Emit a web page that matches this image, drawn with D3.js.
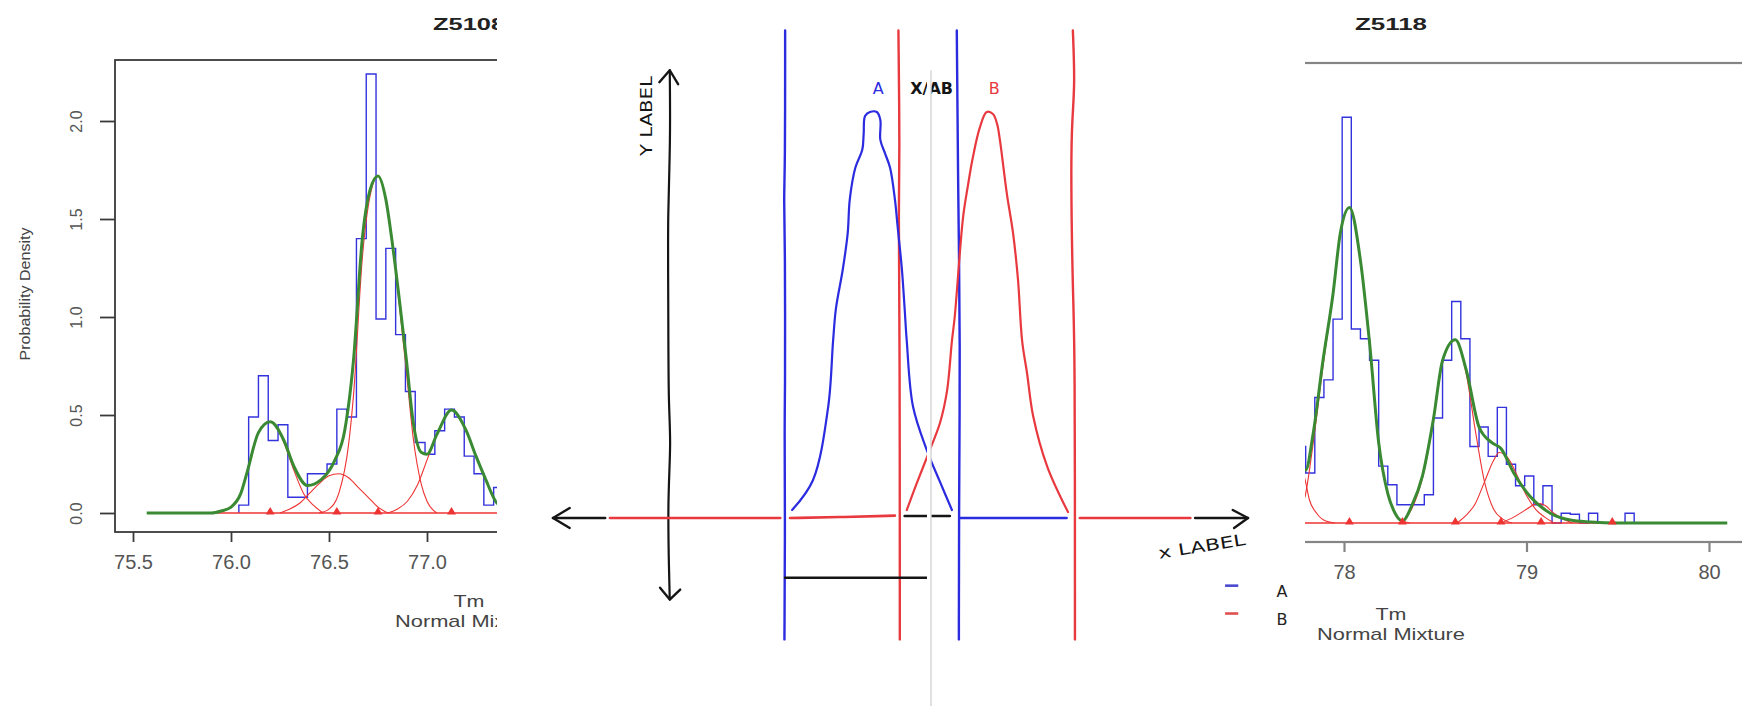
<!DOCTYPE html>
<html><head><meta charset="utf-8">
<script src="https://cdn.jsdelivr.net/npm/d3@7"></script>
<style>body{margin:0;background:#fff}svg{display:block}</style>
</head><body><svg id="c" width="1742" height="706"></svg>
<script>
// ---------------- DATA ----------------
// Left panel: Z5108
const leftTitle = "Z5108";
const leftBinStart = 76.04;
const leftBinWidth = 0.05;
const leftHist = [0.04,0.49,0.70,0.37,0.45,0.08,0.08,0.20,0.20,0.25,0.53,0.49,1.40,2.24,0.99,1.35,0.91,0.62,0.36,0.30,0.42,0.53,0.49,0.29,0.20,0.04,0.13];
const leftFit = [[75.57,0],[75.9,0],[75.95,0.01],[76.0,0.03],[76.05,0.1],[76.08,0.2],[76.14,0.41],[76.2,0.465],[76.27,0.37],[76.32,0.24],[76.39,0.14],[76.46,0.17],[76.53,0.27],[76.58,0.42],[76.625,0.78],[76.67,1.4],[76.71,1.65],[76.75,1.72],[76.79,1.6],[76.82,1.4],[76.86,1.08],[76.895,0.78],[76.93,0.46],[76.97,0.31],[77.0,0.3],[77.05,0.4],[77.125,0.525],[77.2,0.42],[77.25,0.29],[77.3,0.17],[77.35,0.06],[77.4,0.02]];
const leftComp1 = [[75.9,0],[75.95,0.01],[76.0,0.03],[76.05,0.1],[76.08,0.2],[76.14,0.41],[76.2,0.465],[76.27,0.36],[76.32,0.22],[76.37,0.1],[76.42,0.04],[76.47,0]];
const leftComp2 = [[76.25,0],[76.3,0.02],[76.35,0.05],[76.4,0.1],[76.45,0.15],[76.5,0.19],[76.55,0.2],[76.6,0.18],[76.65,0.13],[76.7,0.08],[76.75,0.03],[76.8,0]];
const leftComp3 = [[76.45,0],[76.5,0.02],[76.55,0.1],[76.6,0.35],[76.625,0.6],[76.67,1.3],[76.71,1.62],[76.75,1.72],[76.79,1.6],[76.82,1.4],[76.86,1.05],[76.895,0.72],[76.93,0.38],[76.97,0.15],[77.0,0.06],[77.05,0]];
const leftComp4 = [[76.8,0],[76.85,0.02],[76.9,0.06],[76.95,0.14],[77.0,0.27],[77.05,0.4],[77.125,0.525],[77.2,0.42],[77.25,0.29],[77.3,0.17],[77.35,0.06],[77.4,0.02]];
const leftMeans = [76.2, 76.54, 76.75, 77.125];
const leftRedRange = [75.9, 77.6];
const leftXTicks = [75.5, 76.0, 76.5, 77.0, 77.5];
const leftYTicks = [0.0, 0.5, 1.0, 1.5, 2.0];

// Right panel: Z5118
const rightTitle = "Z5118";
const rightBinStart = 77.74;
const rightBinWidth = 0.05;
const rightHist = [0.39,0.255,0.64,0.73,1.04,2.07,0.99,0.94,0.83,0.29,0.195,0.093,0.093,0.093,0.144,0.536,0.83,1.13,0.94,0.39,0.49,0.34,0.59,0.30,0.19,0.24,0.093,0.19,0,0.05,0.045,0,0.05,0,0,0,0.05];
const rightFit = [[77.74,0.36],[77.79,0.27],[77.83,0.45],[77.885,0.83],[77.94,1.17],[77.98,1.48],[78.03,1.61],[78.09,1.34],[78.14,0.92],[78.19,0.41],[78.24,0.15],[78.28,0.05],[78.32,0.01],[78.37,0.085],[78.43,0.24],[78.49,0.53],[78.54,0.83],[78.61,0.935],[78.67,0.78],[78.74,0.49],[78.81,0.41],[78.86,0.38],[78.93,0.255],[79.02,0.135],[79.13,0.05],[79.24,0.015],[79.35,0.005],[79.5,0],[80.1,0]];
const rightComp0 = [[77.7,0.5],[77.75,0.33],[77.787,0.22],[77.81,0.12],[77.85,0.05],[77.9,0.01],[77.95,0]];
const rightComp1 = [[77.74,0.02],[77.79,0.15],[77.83,0.4],[77.885,0.8],[77.94,1.17],[77.98,1.48],[78.03,1.61],[78.09,1.34],[78.14,0.92],[78.19,0.41],[78.24,0.15],[78.28,0.05],[78.32,0.01],[78.36,0]];
const rightComp3 = [[78.3,0],[78.37,0.07],[78.43,0.23],[78.49,0.52],[78.54,0.82],[78.61,0.935],[78.67,0.76],[78.72,0.47],[78.77,0.21],[78.82,0.07],[78.87,0.02],[78.92,0]];
const rightComp4 = [[78.62,0],[78.67,0.04],[78.72,0.1],[78.77,0.21],[78.82,0.32],[78.85,0.36],[78.9,0.33],[78.95,0.24],[79.0,0.14],[79.05,0.07],[79.1,0.03],[79.15,0]];
const rightComp5 = [[78.86,0],[78.93,0.03],[79.0,0.07],[79.06,0.1],[79.1,0.09],[79.15,0.05],[79.2,0.02],[79.25,0]];
const rightMeans = [78.03, 78.32, 78.61, 78.86, 79.08, 79.47];
const rightRedRange = [77.7, 79.6];
const rightXTicks = [78, 79, 80];

const axisTitle = "Tm";
const subTitle = "Normal Mixture";
const yTitle = "Probability Density";

// Middle sketch (sketch units)
const curveA = [[3.44,0.04],[3.74,0.19],[3.96,0.56],[4.03,0.89],[4.07,1.05],[4.17,1.25],[4.24,1.43],[4.27,1.60],[4.35,1.76],[4.45,1.85],[4.47,1.93],[4.49,2.02],[4.56,2.04],[4.66,2.04],[4.71,2.00],[4.71,1.90],[4.78,1.83],[4.85,1.76],[4.92,1.60],[4.96,1.46],[5.02,1.25],[5.06,1.05],[5.09,0.89],[5.18,0.56],[5.38,0.34],[5.57,0.18],[5.74,0.04]];
const curveB = [[5.09,0.04],[5.24,0.18],[5.42,0.34],[5.57,0.48],[5.67,0.64],[5.74,0.89],[5.78,1.01],[5.90,1.51],[5.97,1.67],[6.04,1.81],[6.14,1.96],[6.24,2.04],[6.33,2.03],[6.39,1.98],[6.43,1.90],[6.53,1.63],[6.62,1.43],[6.69,1.20],[6.75,0.89],[6.82,0.73],[6.91,0.51],[7.11,0.26],[7.41,0.03]];
const vLineBlue1 = [[3.34,2.45],[3.34,1.76],[3.32,1.60],[3.34,1.40],[3.34,0.56],[3.33,0.51],[3.34,0.0],[3.33,-0.61]];
const vLineRed1 = [[4.97,2.45],[4.99,1.81],[4.97,1.60],[4.99,0.89],[4.99,-0.61]];
const vLineBlue2 = [[5.81,2.45],[5.83,1.60],[5.86,0.89],[5.84,0.0],[5.84,-0.61]];
const vLineRed2 = [[7.48,2.45],[7.51,2.18],[7.47,2.01],[7.45,1.76],[7.48,1.10],[7.51,0.89],[7.51,-0.61]];
const yAxisSketch = [[1.68,2.25],[1.69,1.88],[1.65,1.53],[1.66,1.10],[1.66,0.56],[1.70,0.39],[1.65,0.09],[1.67,-0.28],[1.68,-0.41]];
const xAxisSegments = [
  {k:"black", p:[[0,0],[0.75,0]]},
  {k:"B", p:[[0.82,0],[3.27,0]]},
  {k:"B", p:[[3.41,0],[4.2,0.005],[4.92,0.012]]},
  {k:"black", p:[[5.06,0.01],[5.71,0.01]]},
  {k:"A", p:[[5.86,0],[7.39,0]]},
  {k:"B", p:[[7.58,0],[9.17,0]]},
  {k:"black", p:[[9.24,0],[10,0]]}
];
const arrowHeads = [
  [[0.24,0.05],[0,0],[0.24,-0.05]],
  [[9.78,0.04],[10,0],[9.8,-0.05]],
  [[1.53,2.19],[1.68,2.25],[1.80,2.18]],
  [[1.54,-0.35],[1.68,-0.41],[1.83,-0.36]]
];
const spanBar = [[3.34,-0.30],[5.42,-0.30]];
const seam = [[5.41,2.25],[5.41,-0.95]];
const sketchLabels = [
  {t:"A", u:4.68, v:2.13, k:"A", a:"middle"},
  {t:"X/AB", u:5.14, v:2.13, k:"black", a:"start"},
  {t:"B", u:6.35, v:2.13, k:"B", a:"middle"}
];
const legendKeys = ["A","B"];
const legendV = [-0.34, -0.48];

// ---------------- DRAW ----------------
const W = 1742, H = 706;
const svg = d3.select("#c");
svg.append("rect").attr("width", W).attr("height", H).attr("fill", "#fff");
const defs = svg.append("defs");
defs.append("clipPath").attr("id","clipL").append("rect").attr("x",0).attr("y",0).attr("width",497).attr("height",H);
defs.append("clipPath").attr("id","clipR").append("rect").attr("x",1305).attr("y",0).attr("width",W-1305).attr("height",H);

const RFONT = "'Liberation Sans', Arial, Helvetica, sans-serif";
const histBlue = "#3333dd", fitGreen = "#3a8a34", compRed = "#ee3333";

function drawRPanel(o) {
  const g = svg.append("g").attr("clip-path", `url(#${o.clip})`);
  const x = o.x, y = o.y;
  // title
  g.append("text").attr("x", o.titleX).attr("y", 30).attr("font-family", RFONT)
    .attr("font-weight", "bold").attr("font-size", 17).attr("fill", "#222")
    .attr("textLength", 72).attr("lengthAdjust", "spacingAndGlyphs").text(o.title);
  // frame
  g.append("rect").attr("x", o.frame[0]).attr("y", o.frame[1]).attr("width", o.frame[2]).attr("height", o.frame[3])
    .attr("fill", "none").attr("stroke", o.frameColor).attr("stroke-width", o.frameWidth);
  // x axis
  const xa = g.append("g").attr("transform", `translate(0,${o.frame[1]+o.frame[3]})`)
    .call(d3.axisBottom(x).tickValues(o.xTicks).tickSize(10).tickFormat(o.xFmt));
  xa.select(".domain").remove();
  xa.selectAll(".tick line").attr("stroke", o.frameColor).attr("stroke-width", o.frameWidth);
  xa.selectAll(".tick text").attr("y", 37).attr("dy", 0).attr("font-family", RFONT)
    .attr("font-size", 20).attr("fill", "#555");
  // y axis
  if (o.yTicks) {
    const ya = g.append("g").attr("transform", `translate(${o.frame[0]},0)`)
      .call(d3.axisLeft(y).tickValues(o.yTicks).tickSize(15).tickFormat(d3.format(".1f")));
    ya.select(".domain").remove();
    ya.selectAll(".tick line").attr("stroke", o.frameColor).attr("stroke-width", o.frameWidth);
    ya.selectAll(".tick text").attr("transform", "rotate(-90)").attr("x", 0).attr("y", -33).attr("dy", 0)
      .attr("text-anchor", "middle").attr("font-family", RFONT).attr("font-size", 16).attr("fill", "#555");
  }
  // histogram outline (step)
  const n = o.hist.length;
  const stepPts = [[o.binStart, 0]].concat(o.hist.map((h, i) => [o.binStart + i * o.binWidth, h]), [[o.binStart + n * o.binWidth, 0]]);
  const stepLine = d3.line().x(d => x(d[0])).y(d => y(d[1])).curve(d3.curveStepAfter);
  g.append("path").attr("d", stepLine(stepPts)).attr("fill", "none").attr("stroke", histBlue).attr("stroke-width", 1.4);
  const line = d3.line().x(d => x(d[0])).y(d => y(d[1])).curve(d3.curveMonotoneX);
  // components
  g.append("g").selectAll("path").data(o.comps).join("path").attr("d", line)
    .attr("fill", "none").attr("stroke", compRed).attr("stroke-width", 1.1);
  // zero line
  g.append("line").attr("x1", x(o.redRange[0])).attr("x2", x(o.redRange[1]))
    .attr("y1", y(0)).attr("y2", y(0)).attr("stroke", compRed).attr("stroke-width", 1.4);
  // fit
  g.append("path").attr("d", line(o.fit)).attr("fill", "none").attr("stroke", fitGreen)
    .attr("stroke-width", 3).attr("stroke-linejoin", "round");
  // means
  g.append("g").selectAll("path").data(o.means).join("path")
    .attr("d", d3.symbol(d3.symbolTriangle).size(34))
    .attr("transform", d => `translate(${x(d)},${y(0) - 1})`).attr("fill", compRed);
  // axis titles
  g.append("text").attr("x", o.subX).attr("y", o.subY).attr("text-anchor", "middle").attr("font-family", RFONT)
    .attr("font-size", 17).attr("fill", "#444").attr("textLength", 31).attr("lengthAdjust", "spacingAndGlyphs").text(axisTitle);
  g.append("text").attr("x", o.subX).attr("y", o.subY + 20).attr("text-anchor", "middle").attr("font-family", RFONT)
    .attr("font-size", 17).attr("fill", "#444").attr("textLength", 148).attr("lengthAdjust", "spacingAndGlyphs").text(subTitle);
  if (o.yTitle) {
    g.append("text").attr("transform", `translate(30,294) rotate(-90)`).attr("text-anchor", "middle")
      .attr("font-family", RFONT).attr("font-size", 15).attr("fill", "#444")
      .attr("textLength", 133).attr("lengthAdjust", "spacingAndGlyphs").text(o.yTitle);
  }
}

const xL = d3.scaleLinear().domain([75.5, 77.0]).range([133, 427]);
const yL = d3.scaleLinear().domain([0, 2]).range([513, 121]);
drawRPanel({
  clip: "clipL", x: xL, y: yL, title: leftTitle, titleX: 433,
  frame: [115, 60, 520, 472], frameColor: "#3a3a3a", frameWidth: 1.8,
  xTicks: leftXTicks, xFmt: d3.format(".1f"), yTicks: leftYTicks,
  hist: leftHist, binStart: leftBinStart, binWidth: leftBinWidth,
  comps: [leftComp1, leftComp2, leftComp3, leftComp4], fit: leftFit,
  means: leftMeans, redRange: leftRedRange, subX: 469, subY: 607, yTitle: yTitle
});

const xR = d3.scaleLinear().domain([78, 80]).range([1344, 1709]);
const yR = d3.scaleLinear().domain([0, 2]).range([523, 131]);
drawRPanel({
  clip: "clipR", x: xR, y: yR, title: rightTitle, titleX: 1355,
  frame: [1200, 63, 700, 479], frameColor: "#858585", frameWidth: 2.2,
  xTicks: rightXTicks, xFmt: d3.format("d"), yTicks: null,
  hist: rightHist, binStart: rightBinStart, binWidth: rightBinWidth,
  comps: [rightComp0, rightComp1, rightComp3, rightComp4, rightComp5], fit: rightFit,
  means: rightMeans, redRange: rightRedRange, subX: 1391, subY: 620, yTitle: null
});

// ---- middle sketch ----
const xS = d3.scaleLinear().domain([0, 10]).range([553, 1248]);
const yS = d3.scaleLinear().domain([0, 2]).range([518, 120]);
const col = {A: "#2b2be0", B: "#e8393f", black: "#151515"};
const SFONT = "'DejaVu Sans', 'Open Sans', sans-serif";
const gs = svg.append("g").attr("fill", "none").attr("stroke-linecap", "round").attr("stroke-linejoin", "round");
const sk = d3.line().x(d => xS(d[0])).y(d => yS(d[1])).curve(d3.curveCatmullRom.alpha(0.5));
const skB = d3.line().x(d => xS(d[0])).y(d => yS(d[1])).curve(d3.curveBasis);
const skL = d3.line().x(d => xS(d[0])).y(d => yS(d[1]));

// y axis
gs.append("path").attr("d", skB(yAxisSketch)).attr("stroke", col.black).attr("stroke-width", 2.2);
// x axis segments
gs.selectAll("path.xa").data(xAxisSegments).join("path").attr("class", "xa")
  .attr("d", d => skB(d.p)).attr("stroke", d => col[d.k]).attr("stroke-width", 2.6);
// arrow heads
gs.selectAll("path.ah").data(arrowHeads).join("path").attr("class", "ah")
  .attr("d", d => skL(d)).attr("stroke", col.black).attr("stroke-width", 2.4);
// vertical lines
[[vLineBlue1, "A"], [vLineRed1, "B"], [vLineBlue2, "A"], [vLineRed2, "B"]].forEach(([p, k]) => {
  gs.append("path").attr("d", skB(p)).attr("stroke", col[k]).attr("stroke-width", 2.4);
});
// curves
gs.append("path").attr("d", sk(curveA)).attr("stroke", col.A).attr("stroke-width", 2.2);
gs.append("path").attr("d", sk(curveB)).attr("stroke", col.B).attr("stroke-width", 2.2);
// span bar
gs.append("path").attr("d", skL(spanBar)).attr("stroke", col.black).attr("stroke-width", 2.6);
// labels
svg.append("g").selectAll("text").data(sketchLabels).join("text")
  .attr("x", d => xS(d.u)).attr("y", d => yS(d.v)).attr("text-anchor", d => d.a)
  .attr("font-family", SFONT).attr("font-size", 16).attr("fill", d => col[d.k])
  .attr("font-weight", d => d.k === "black" ? "bold" : "normal").text(d => d.t);
svg.append("text").attr("transform", `translate(${xS(1.42)},${yS(2.02)}) rotate(-90)`)
  .attr("text-anchor", "middle").attr("font-family", SFONT).attr("font-size", 16).attr("fill", col.black)
  .attr("textLength", 80).attr("lengthAdjust", "spacingAndGlyphs").text("Y LABEL");
svg.append("text").attr("transform", `translate(${xS(9.35)},${yS(-0.17)}) rotate(-9)`)
  .attr("text-anchor", "middle").attr("font-family", SFONT).attr("font-size", 16).attr("fill", col.black)
  .attr("textLength", 88).attr("lengthAdjust", "spacingAndGlyphs").text("x LABEL");
// seam
svg.append("path").attr("d", skL(seam)).attr("stroke", "#fff").attr("stroke-width", 4).attr("fill", "none");
svg.append("path").attr("d", skL(seam)).attr("stroke", "#d4d4d4").attr("stroke-width", 1.4).attr("fill", "none")
  .attr("transform", "translate(2,0)");
// legend
const lg = svg.append("g");
lg.selectAll("line").data(legendKeys).join("line")
  .attr("x1", xS(9.67)).attr("x2", xS(9.86)).attr("y1", (d, i) => yS(legendV[i])).attr("y2", (d, i) => yS(legendV[i]))
  .attr("stroke", d => d === "A" ? "#4a4ad0" : "#e05050").attr("stroke-width", 2.6);
lg.selectAll("text").data(legendKeys).join("text")
  .attr("x", xS(10.49)).attr("y", (d, i) => yS(legendV[i]) + 11).attr("text-anchor", "middle")
  .attr("font-family", SFONT).attr("font-size", 16).attr("fill", "#222").text(d => d);
</script></body></html>
